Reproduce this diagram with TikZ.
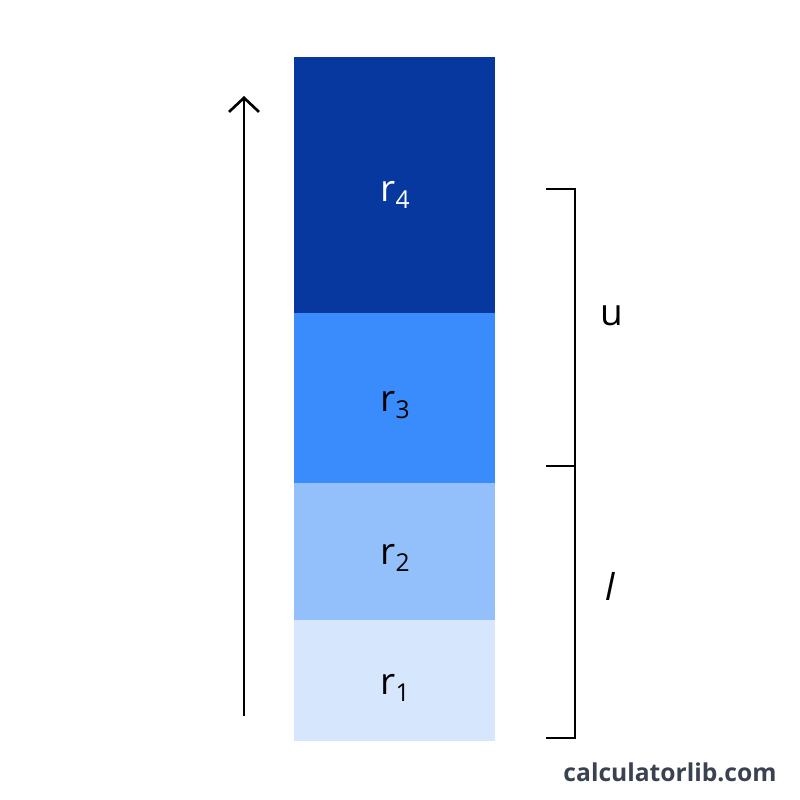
\documentclass[tikz,border=0pt]{standalone}
\usepackage{fontspec}
\setmainfont{Open Sans}
\usetikzlibrary{arrows.meta}
\definecolor{cA}{HTML}{0638A0}
\definecolor{cB}{HTML}{3A8BFB}
\definecolor{cC}{HTML}{93C0FB}
\definecolor{cD}{HTML}{D6E6FC}
\definecolor{wm}{HTML}{3A4150}
\newcommand{\rs}[1]{r\raisebox{-0.35ex}{\fontsize{7}{8}\selectfont #1}}
\tikzset{lab/.style={font=\fontsize{10.5}{12}\selectfont},
 br/.style={line width=0.45pt,black}}
\begin{document}
\begin{tikzpicture}[x=0.01cm,y=-0.01cm]
\useasboundingbox (0,0) rectangle (800,800);
\fill[cA] (294,57) rectangle (495,313);
\fill[cB] (294,313) rectangle (495,483);
\fill[cC] (294,483) rectangle (495,620);
\fill[cD] (294,620) rectangle (495,741);
\node[lab,text=white] (r4) at (395,195) {\rs{4}};
\node[lab] (r3) at (395,405) {\rs{3}};
\node[lab] (r2) at (395,558) {\rs{2}};
\node[lab] (r1) at (395,688) {\rs{1}};
\coordinate (a0) at (244,716);
\coordinate (a1) at (244,96);
\draw[line width=0.75pt,-{Straight Barb[length=4pt,width=8.5pt]}] (a0) -- (a1);
\coordinate (t0) at (546,189); \coordinate (t1) at (575,189);
\coordinate (m0) at (546,466); \coordinate (m1) at (575,466);
\coordinate (b0) at (546,738); \coordinate (b1) at (575,738);
\draw[br] (t0) -- (t1) -- (b1) -- (b0);
\draw[br] (m0) -- (m1);
\node[lab] (u) at (612,316) {u};
\node[lab] (l) at (610,586) {\itshape l};
\node[font=\fontsize{7}{9}\selectfont\bfseries,text=wm] (wmk) at (670,772) {calculatorlib.com};
\end{tikzpicture}
\end{document}
